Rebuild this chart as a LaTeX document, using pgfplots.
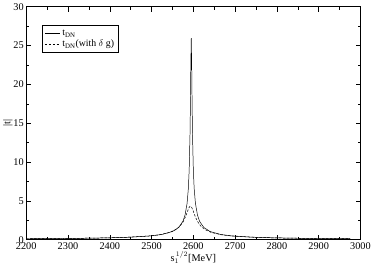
\documentclass[border=0pt]{standalone}
\usepackage{fontspec}
\setmainfont{Liberation Serif}
\usepackage{pgfplots}
\pgfplotsset{compat=1.18}
\begin{document}
\begin{tikzpicture}
\begin{axis}[
  scale only axis,
  width=340bp, height=237bp,
  xmin=2200, xmax=3000, ymin=0, ymax=30,
  xtick={2200,2300,...,3000}, ytick={0,5,...,30},
  minor x tick num=1, minor y tick num=1,
  tick align=inside, tick pos=both,
  major tick length=5bp, minor tick length=3bp,
  every tick/.style={black, line width=0.5pt},
  axis line style={line width=0.8pt},
  /pgf/number format/assume math mode=true,
  /pgf/number format/1000 sep={},
  tick label style={font=\fontsize{10.5}{11}\selectfont},
  yticklabel style={xshift=1pt},
  xticklabel style={yshift=1pt},
  xlabel={s$_1^{\,1/2}$[MeV]}, ylabel={|t|},
  label style={font=\fontsize{10.5}{11}\selectfont},
  xlabel style={yshift=5pt}, ylabel style={yshift=-6pt},
  legend style={at={(0.047,0.92)}, anchor=north west, font=\fontsize{10}{11}\selectfont, draw=black, line width=0.6pt, row sep=-1pt, inner sep=2.5pt},
  legend image code/.code={\draw[#1] (0cm,0cm) -- (0.55cm,0cm);},
  legend cell align=left,
]
\addplot[black, line width=0.5pt] coordinates {
(2200,0.120)(2250,0.138)(2300,0.161)(2350,0.194)(2400,0.244)(2450,0.328)
(2500,0.500)(2525,0.678)(2550,1.055)(2565,1.581)(2575,2.365)(2580,3.143)
(2585,4.672)(2588,6.565)(2590,8.92)(2592,13.52)(2593,17.52)(2594,22.77)
(2595,25.96)(2596,22.77)(2597,17.52)(2598,13.52)(2600,8.92)(2602,6.565)
(2605,4.672)(2610,3.143)(2615,2.365)(2625,1.581)(2640,1.055)(2665,0.678)
(2690,0.500)(2740,0.328)(2790,0.244)(2840,0.194)(2890,0.161)(2940,0.138)(2975,0.125)
};
\addlegendentry{t$_{\mathrm{DN}}$}
\addplot[black, line width=0.5pt, dash pattern=on 2.5pt off 1.5pt] coordinates {
(2200,0.121)(2293,0.158)(2343,0.190)(2393,0.237)(2443,0.316)(2493,0.472)
(2518,0.627)(2543,0.928)(2558,1.295)(2568,1.739)(2576,2.346)(2581,2.918)
(2585,3.492)(2588,3.932)(2590,4.166)(2592,4.30)(2593,4.318)(2594,4.30)
(2596,4.166)(2598,3.932)(2601,3.492)(2605,2.918)(2610,2.346)(2618,1.739)
(2628,1.295)(2643,0.928)(2668,0.627)(2693,0.472)(2743,0.316)(2793,0.237)
(2843,0.190)(2893,0.158)(2975,0.124)
};
\addlegendentry{t$_{\mathrm{DN}}$(with $\delta$ g)}
\end{axis}
\end{tikzpicture}
\end{document}
